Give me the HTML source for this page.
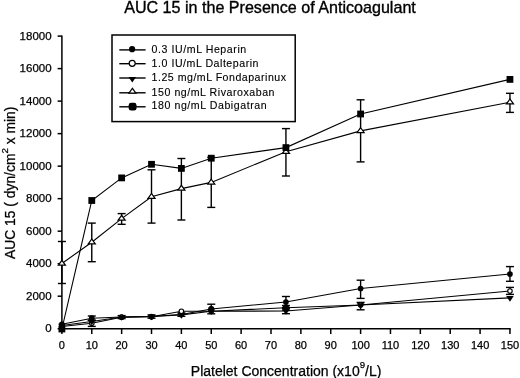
<!DOCTYPE html>
<html><head><meta charset="utf-8"><style>
html,body{margin:0;padding:0;background:#fff;}
body{width:520px;height:378px;overflow:hidden;}
svg{display:block;}
text{font-family:"Liberation Sans",Arial,sans-serif;fill:#000;}
.tk{font-size:11px;}
.lg{font-size:10.6px;stroke-width:0.12px;}
.yt{font-size:11.5px;}
text{stroke:#000;stroke-width:0.25px;}
</style></head><body>
<svg width="520" height="378" viewBox="0 0 520 378">
<rect width="520" height="378" fill="#fff"/>
<text x="270" y="12.5" text-anchor="middle" style="font-size:16.1px;stroke-width:0.35px">AUC 15 in the Presence of Anticoagulant</text>
<g stroke="#000" stroke-width="1.5" fill="none">
<line x1="61.9" y1="35.4" x2="61.9" y2="329.5"/>
<line x1="61.199999999999996" y1="328.7" x2="510.7" y2="328.7"/>
<line x1="57.6" y1="328.70" x2="61.9" y2="328.70"/>
<line x1="57.6" y1="296.19" x2="61.9" y2="296.19"/>
<line x1="57.6" y1="263.68" x2="61.9" y2="263.68"/>
<line x1="57.6" y1="231.17" x2="61.9" y2="231.17"/>
<line x1="57.6" y1="198.66" x2="61.9" y2="198.66"/>
<line x1="57.6" y1="166.14" x2="61.9" y2="166.14"/>
<line x1="57.6" y1="133.63" x2="61.9" y2="133.63"/>
<line x1="57.6" y1="101.12" x2="61.9" y2="101.12"/>
<line x1="57.6" y1="68.61" x2="61.9" y2="68.61"/>
<line x1="57.6" y1="36.10" x2="61.9" y2="36.10"/>
<line x1="61.90" y1="328.7" x2="61.90" y2="334"/>
<line x1="91.77" y1="328.7" x2="91.77" y2="334"/>
<line x1="121.64" y1="328.7" x2="121.64" y2="334"/>
<line x1="151.51" y1="328.7" x2="151.51" y2="334"/>
<line x1="181.38" y1="328.7" x2="181.38" y2="334"/>
<line x1="211.25" y1="328.7" x2="211.25" y2="334"/>
<line x1="241.12" y1="328.7" x2="241.12" y2="334"/>
<line x1="270.99" y1="328.7" x2="270.99" y2="334"/>
<line x1="300.86" y1="328.7" x2="300.86" y2="334"/>
<line x1="330.73" y1="328.7" x2="330.73" y2="334"/>
<line x1="360.60" y1="328.7" x2="360.60" y2="334"/>
<line x1="390.47" y1="328.7" x2="390.47" y2="334"/>
<line x1="420.34" y1="328.7" x2="420.34" y2="334"/>
<line x1="450.21" y1="328.7" x2="450.21" y2="334"/>
<line x1="480.08" y1="328.7" x2="480.08" y2="334"/>
<line x1="509.95" y1="328.7" x2="509.95" y2="334"/>
</g>
<g class="tk">
<text x="51.6" y="332.30" text-anchor="end" class="yt">0</text>
<text x="51.6" y="299.79" text-anchor="end" class="yt">2000</text>
<text x="51.6" y="267.28" text-anchor="end" class="yt">4000</text>
<text x="51.6" y="234.77" text-anchor="end" class="yt">6000</text>
<text x="51.6" y="202.26" text-anchor="end" class="yt">8000</text>
<text x="51.6" y="169.74" text-anchor="end" class="yt">10000</text>
<text x="51.6" y="137.23" text-anchor="end" class="yt">12000</text>
<text x="51.6" y="104.72" text-anchor="end" class="yt">14000</text>
<text x="51.6" y="72.21" text-anchor="end" class="yt">16000</text>
<text x="51.6" y="39.70" text-anchor="end" class="yt">18000</text>
<text x="61.90" y="348.8" text-anchor="middle">0</text>
<text x="91.77" y="348.8" text-anchor="middle">10</text>
<text x="121.64" y="348.8" text-anchor="middle">20</text>
<text x="151.51" y="348.8" text-anchor="middle">30</text>
<text x="181.38" y="348.8" text-anchor="middle">40</text>
<text x="211.25" y="348.8" text-anchor="middle">50</text>
<text x="241.12" y="348.8" text-anchor="middle">60</text>
<text x="270.99" y="348.8" text-anchor="middle">70</text>
<text x="300.86" y="348.8" text-anchor="middle">80</text>
<text x="330.73" y="348.8" text-anchor="middle">90</text>
<text x="360.60" y="348.8" text-anchor="middle">100</text>
<text x="390.47" y="348.8" text-anchor="middle">110</text>
<text x="420.34" y="348.8" text-anchor="middle">120</text>
<text x="450.21" y="348.8" text-anchor="middle">130</text>
<text x="480.08" y="348.8" text-anchor="middle">140</text>
<text x="509.95" y="348.8" text-anchor="middle">150</text>
</g>
<text transform="translate(14.9,182.8) rotate(-90)" text-anchor="middle" style="font-size:13.85px">AUC 15 ( dyn/cm<tspan dy="-7" style="font-size:9.8px">2</tspan><tspan dy="7"> x min)</tspan></text>
<text x="286.1" y="375.6" text-anchor="middle" style="font-size:14px">Platelet Concentration (x10<tspan dy="-7.2" style="font-size:9.6px">9</tspan><tspan dy="7.2">/L)</tspan></text>
<g fill="#000">
<polyline points="61.90,324.30 91.77,318.20 121.64,317.00 151.51,316.50 181.38,314.50 211.25,309.00 285.93,302.00 360.60,288.50 509.95,274.00" fill="none" stroke="#000" stroke-width="1.1"/>
<g stroke="#000" stroke-width="1.4"><line x1="91.77" y1="316.0" x2="91.77" y2="320.5"/>
<line x1="87.77" y1="316.0" x2="95.77" y2="316.0"/>
<line x1="87.77" y1="320.5" x2="95.77" y2="320.5"/>
<line x1="121.64" y1="315.6" x2="121.64" y2="318.6"/>
<line x1="117.64" y1="315.6" x2="125.64" y2="315.6"/>
<line x1="117.64" y1="318.6" x2="125.64" y2="318.6"/>
<line x1="151.51" y1="315.0" x2="151.51" y2="318.2"/>
<line x1="147.51" y1="315.0" x2="155.51" y2="315.0"/>
<line x1="147.51" y1="318.2" x2="155.51" y2="318.2"/>
<line x1="181.38" y1="312.9" x2="181.38" y2="316.3"/>
<line x1="177.38" y1="312.9" x2="185.38" y2="312.9"/>
<line x1="177.38" y1="316.3" x2="185.38" y2="316.3"/>
<line x1="211.25" y1="304.2" x2="211.25" y2="313.8"/>
<line x1="207.25" y1="304.2" x2="215.25" y2="304.2"/>
<line x1="207.25" y1="313.8" x2="215.25" y2="313.8"/>
<line x1="285.93" y1="296.5" x2="285.93" y2="307.5"/>
<line x1="281.93" y1="296.5" x2="289.93" y2="296.5"/>
<line x1="281.93" y1="307.5" x2="289.93" y2="307.5"/>
<line x1="360.60" y1="280.2" x2="360.60" y2="298.4"/>
<line x1="356.60" y1="280.2" x2="364.60" y2="280.2"/>
<line x1="356.60" y1="298.4" x2="364.60" y2="298.4"/>
<line x1="509.95" y1="266.6" x2="509.95" y2="281.3"/>
<line x1="505.95" y1="266.6" x2="513.95" y2="266.6"/>
<line x1="505.95" y1="281.3" x2="513.95" y2="281.3"/></g>
<circle cx="61.90" cy="324.30" r="2.85" fill="#000"/>
<circle cx="91.77" cy="318.20" r="2.85" fill="#000"/>
<circle cx="121.64" cy="317.00" r="2.85" fill="#000"/>
<circle cx="151.51" cy="316.50" r="2.85" fill="#000"/>
<circle cx="181.38" cy="314.50" r="2.85" fill="#000"/>
<circle cx="211.25" cy="309.00" r="2.85" fill="#000"/>
<circle cx="285.93" cy="302.00" r="2.85" fill="#000"/>
<circle cx="360.60" cy="288.50" r="2.85" fill="#000"/>
<circle cx="509.95" cy="274.00" r="2.85" fill="#000"/>
<polyline points="61.90,326.50 91.77,323.20 121.64,317.20 151.51,316.80 181.38,311.20 211.25,311.20 285.93,307.80 360.60,305.00 509.95,291.00" fill="none" stroke="#000" stroke-width="1.1"/>
<g stroke="#000" stroke-width="1.4"><line x1="91.77" y1="320.2" x2="91.77" y2="326.4"/>
<line x1="87.77" y1="320.2" x2="95.77" y2="320.2"/>
<line x1="87.77" y1="326.4" x2="95.77" y2="326.4"/>
<line x1="285.93" y1="305.5" x2="285.93" y2="310.1"/>
<line x1="281.93" y1="305.5" x2="289.93" y2="305.5"/>
<line x1="281.93" y1="310.1" x2="289.93" y2="310.1"/>
<line x1="360.60" y1="302.4" x2="360.60" y2="309.8"/>
<line x1="356.60" y1="302.4" x2="364.60" y2="302.4"/>
<line x1="356.60" y1="309.8" x2="364.60" y2="309.8"/>
<line x1="509.95" y1="287.4" x2="509.95" y2="294.4"/>
<line x1="505.95" y1="287.4" x2="513.95" y2="287.4"/>
<line x1="505.95" y1="294.4" x2="513.95" y2="294.4"/></g>
<circle cx="61.90" cy="326.50" r="2.25" fill="#fff" stroke="#000" stroke-width="1.15"/>
<circle cx="91.77" cy="323.20" r="2.25" fill="#fff" stroke="#000" stroke-width="1.15"/>
<circle cx="121.64" cy="317.20" r="2.25" fill="#fff" stroke="#000" stroke-width="1.15"/>
<circle cx="151.51" cy="316.80" r="2.25" fill="#fff" stroke="#000" stroke-width="1.15"/>
<circle cx="181.38" cy="311.20" r="2.25" fill="#fff" stroke="#000" stroke-width="1.15"/>
<circle cx="211.25" cy="311.20" r="2.25" fill="#fff" stroke="#000" stroke-width="1.15"/>
<circle cx="285.93" cy="307.80" r="2.25" fill="#fff" stroke="#000" stroke-width="1.15"/>
<circle cx="360.60" cy="305.00" r="2.25" fill="#fff" stroke="#000" stroke-width="1.15"/>
<circle cx="509.95" cy="291.00" r="2.25" fill="#fff" stroke="#000" stroke-width="1.15"/>
<polyline points="61.90,325.50 91.77,321.50 121.64,317.00 151.51,316.50 181.38,314.90 211.25,311.30 285.93,311.00 360.60,305.00 509.95,297.90" fill="none" stroke="#000" stroke-width="1.1"/>
<g stroke="#000" stroke-width="1.4"><line x1="285.93" y1="308.3" x2="285.93" y2="313.7"/>
<line x1="281.93" y1="308.3" x2="289.93" y2="308.3"/>
<line x1="281.93" y1="313.7" x2="289.93" y2="313.7"/></g>
<polygon points="58.10,323.63 65.70,323.63 61.90,329.23" fill="#000"/>
<polygon points="87.97,319.63 95.57,319.63 91.77,325.23" fill="#000"/>
<polygon points="117.84,315.13 125.44,315.13 121.64,320.73" fill="#000"/>
<polygon points="147.71,314.63 155.31,314.63 151.51,320.23" fill="#000"/>
<polygon points="177.58,313.03 185.18,313.03 181.38,318.63" fill="#000"/>
<polygon points="207.45,309.43 215.05,309.43 211.25,315.03" fill="#000"/>
<polygon points="282.12,309.13 289.73,309.13 285.93,314.73" fill="#000"/>
<polygon points="356.80,303.13 364.40,303.13 360.60,308.73" fill="#000"/>
<polygon points="506.15,296.03 513.75,296.03 509.95,301.63" fill="#000"/>
<circle cx="211.25" cy="309.00" r="3.0" fill="#000"/>
<circle cx="285.93" cy="307.60" r="3.1" fill="#000"/>
<polyline points="61.90,263.50 91.77,242.20 121.64,218.60 151.51,196.70 181.38,188.60 211.25,182.40 285.93,151.70 360.60,130.90 509.95,102.20" fill="none" stroke="#000" stroke-width="1.1"/>
<g stroke="#000" stroke-width="1.4"><line x1="61.90" y1="241.5" x2="61.90" y2="283.5"/>
<line x1="57.90" y1="241.5" x2="65.90" y2="241.5"/>
<line x1="57.90" y1="283.5" x2="65.90" y2="283.5"/>
<line x1="91.77" y1="223.1" x2="91.77" y2="261.7"/>
<line x1="87.77" y1="223.1" x2="95.77" y2="223.1"/>
<line x1="87.77" y1="261.7" x2="95.77" y2="261.7"/>
<line x1="121.64" y1="213.6" x2="121.64" y2="224.3"/>
<line x1="117.64" y1="213.6" x2="125.64" y2="213.6"/>
<line x1="117.64" y1="224.3" x2="125.64" y2="224.3"/>
<line x1="151.51" y1="169.8" x2="151.51" y2="223.1"/>
<line x1="147.51" y1="169.8" x2="155.51" y2="169.8"/>
<line x1="147.51" y1="223.1" x2="155.51" y2="223.1"/>
<line x1="181.38" y1="158.5" x2="181.38" y2="220.0"/>
<line x1="177.38" y1="158.5" x2="185.38" y2="158.5"/>
<line x1="177.38" y1="220.0" x2="185.38" y2="220.0"/>
<line x1="211.25" y1="157.4" x2="211.25" y2="207.4"/>
<line x1="207.25" y1="157.4" x2="215.25" y2="157.4"/>
<line x1="207.25" y1="207.4" x2="215.25" y2="207.4"/>
<line x1="285.93" y1="128.6" x2="285.93" y2="176.0"/>
<line x1="281.93" y1="128.6" x2="289.93" y2="128.6"/>
<line x1="281.93" y1="176.0" x2="289.93" y2="176.0"/>
<line x1="360.60" y1="99.8" x2="360.60" y2="161.9"/>
<line x1="356.60" y1="99.8" x2="364.60" y2="99.8"/>
<line x1="356.60" y1="161.9" x2="364.60" y2="161.9"/>
<line x1="509.95" y1="93.3" x2="509.95" y2="112.4"/>
<line x1="505.95" y1="93.3" x2="513.95" y2="93.3"/>
<line x1="505.95" y1="112.4" x2="513.95" y2="112.4"/></g>
<g stroke="#000" stroke-width="1.25"><polygon points="61.90,260.30 58.40,265.10 65.40,265.10" fill="#fff"/></g>
<g stroke="#000" stroke-width="1.25"><polygon points="91.77,239.00 88.27,243.80 95.27,243.80" fill="#fff"/></g>
<g stroke="#000" stroke-width="1.25"><polygon points="121.64,215.40 118.14,220.20 125.14,220.20" fill="#fff"/></g>
<g stroke="#000" stroke-width="1.25"><polygon points="151.51,193.50 148.01,198.30 155.01,198.30" fill="#fff"/></g>
<g stroke="#000" stroke-width="1.25"><polygon points="181.38,185.40 177.88,190.20 184.88,190.20" fill="#fff"/></g>
<g stroke="#000" stroke-width="1.25"><polygon points="211.25,179.20 207.75,184.00 214.75,184.00" fill="#fff"/></g>
<g stroke="#000" stroke-width="1.25"><polygon points="285.93,148.50 282.43,153.30 289.43,153.30" fill="#fff"/></g>
<g stroke="#000" stroke-width="1.25"><polygon points="360.60,127.70 357.10,132.50 364.10,132.50" fill="#fff"/></g>
<g stroke="#000" stroke-width="1.25"><polygon points="509.95,99.00 506.45,103.80 513.45,103.80" fill="#fff"/></g>
<polyline points="61.90,329.00 91.77,200.50 121.64,177.90 151.51,164.30 181.38,168.40 211.25,158.20 285.93,147.60 360.60,114.00 509.95,79.40" fill="none" stroke="#000" stroke-width="1.1"/>
<rect x="58.50" y="325.60" width="6.8" height="6.8"/>
<rect x="88.37" y="197.10" width="6.8" height="6.8"/>
<rect x="118.24" y="174.50" width="6.8" height="6.8"/>
<rect x="148.11" y="160.90" width="6.8" height="6.8"/>
<rect x="177.98" y="165.00" width="6.8" height="6.8"/>
<rect x="207.85" y="154.80" width="6.8" height="6.8"/>
<rect x="282.53" y="144.20" width="6.8" height="6.8"/>
<rect x="357.20" y="110.60" width="6.8" height="6.8"/>
<rect x="506.55" y="76.00" width="6.8" height="6.8"/>
</g>
<g fill="#000">
<rect x="112" y="35" width="183.2" height="86.6" fill="none" stroke="#000" stroke-width="1.5"/>
<line x1="119.3" y1="49.9" x2="145.6" y2="49.9" stroke="#000" stroke-width="1.4"/>
<circle cx="132.10" cy="49.20" r="3.1" fill="#000"/>
<text x="151.6" y="52.6" class="lg" textLength="94.6">0.3 IU/mL Heparin</text>
<line x1="119.3" y1="63.7" x2="145.6" y2="63.7" stroke="#000" stroke-width="1.4"/>
<circle cx="132.2" cy="63.3" r="3.0" fill="#fff" stroke="#000" stroke-width="1.2"/>
<text x="151.6" y="66.8" class="lg" textLength="106.9">1.0 IU/mL Dalteparin</text>
<line x1="119.3" y1="78.0" x2="145.6" y2="78.0" stroke="#000" stroke-width="1.4"/>
<polygon points="128.50,76.93 136.10,76.93 132.30,82.53" fill="#000"/>
<text x="151.6" y="81.4" class="lg" textLength="134.4">1.25 mg/mL Fondaparinux</text>
<line x1="119.3" y1="92.8" x2="145.6" y2="92.8" stroke="#000" stroke-width="1.4"/>
<g stroke="#000" stroke-width="1.2"><polygon points="132.40,88.30 128.90,93.10 135.90,93.10" fill="#fff"/></g>
<text x="151.6" y="95.5" class="lg" textLength="122.9">150 ng/mL Rivaroxaban</text>
<line x1="119.3" y1="106.8" x2="145.6" y2="106.8" stroke="#000" stroke-width="1.4"/>
<rect x="128.7" y="102.8" width="7.8" height="7.8" rx="2.4"/>
<text x="151.6" y="109.4" class="lg" textLength="115.0">180 ng/mL Dabigatran</text>
</g>
</svg>
</body></html>
